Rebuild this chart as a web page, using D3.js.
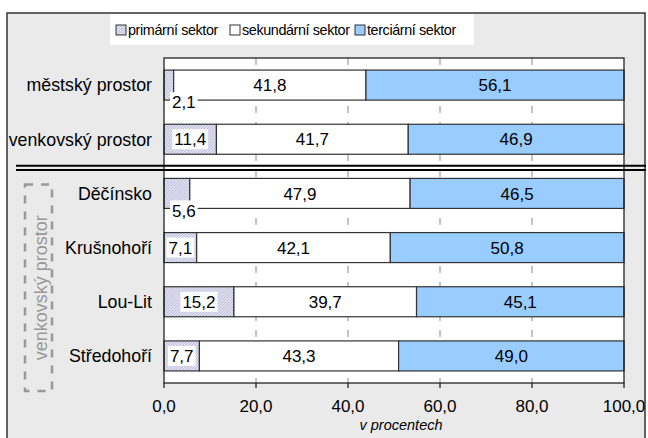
<!DOCTYPE html>
<html>
<head>
<meta charset="utf-8">
<script src="https://cdn.jsdelivr.net/npm/d3@7"></script>
<style>
html,body{margin:0;padding:0;background:#fff;}
svg{display:block;font-family:"Liberation Sans",Arial,sans-serif;}
</style>
</head>
<body>
<svg id="chart" width="648" height="438"></svg>
<script>
const categories = ["městský prostor","venkovský prostor","Děčínsko","Krušnohoří","Lou-Lit","Středohoří"];
const primary = [2.1, 11.4, 5.6, 7.1, 15.2, 7.7];
const secondary = [41.8, 41.7, 47.9, 42.1, 39.7, 43.3];
const tertiary = [56.1, 46.9, 46.5, 50.8, 45.1, 49.0];
const seriesNames = ["primární sektor","sekundární sektor","terciární sektor"];
const xTicks = [0, 20, 40, 60, 80, 100];
const groupLabel = "venkovský prostor";
const axisTitle = "v procentech";

const svg = d3.select("#chart");
const plot = {left:164, right:624, top:58, bottom:383};

const defs = svg.append("defs");
const pat = defs.append("pattern").attr("id","hatch").attr("patternUnits","userSpaceOnUse")
  .attr("width",3).attr("height",3);
pat.append("rect").attr("width",3).attr("height",3).attr("fill","#dedef0");
pat.append("path").attr("d","M-1,1 l2,-2 M0,3 l3,-3 M2,4 l2,-2").attr("stroke","#bcbcd8").attr("stroke-width",0.9);

const fills = ["url(#hatch)","#ffffff","#99ccff"];

svg.append("rect").attr("x",7).attr("y",13).attr("width",638).attr("height",440)
  .attr("fill","#eaeaea").attr("stroke","#333").attr("stroke-width",1.5);

svg.append("rect").attr("x",110).attr("y",14).attr("width",364).attr("height",31).attr("fill","#fff");

const x = d3.scaleLinear().domain([0,100]).range([plot.left, plot.right]);
const y = d3.scaleBand().domain(categories).range([plot.top, plot.bottom]).paddingInner(0.446).paddingOuter(0.223);

const locale = d3.formatLocale({decimal:",", thousands:" ", grouping:[3], currency:["",""]});
const fmt = locale.format(".1f");

svg.append("rect").attr("x",plot.left).attr("y",plot.top).attr("width",plot.right-plot.left)
  .attr("height",plot.bottom-plot.top).attr("fill","#fff");

svg.append("g").selectAll("line").data(xTicks.slice(1,-1)).join("line")
  .attr("x1",d=>x(d)).attr("x2",d=>x(d)).attr("y1",plot.top).attr("y2",plot.bottom)
  .attr("stroke","#888").attr("stroke-width",1).attr("stroke-dasharray","7,9");

const rows = categories.map((c,i)=>({cat:c, vals:[primary[i],secondary[i],tertiary[i]]}));
const segs = [];
rows.forEach(r=>{
  let acc=0;
  r.vals.forEach((v,k)=>{ segs.push({cat:r.cat, k, v, x0:acc, x1:acc+v}); acc+=v; });
});

svg.append("g").selectAll("rect").data(segs).join("rect")
  .attr("x",d=>x(d.x0)).attr("y",d=>y(d.cat))
  .attr("width",d=>x(d.x1)-x(d.x0)).attr("height",y.bandwidth())
  .attr("fill",d=>fills[d.k]).attr("stroke","#333").attr("stroke-width",1.2);

svg.append("rect").attr("x",plot.left).attr("y",plot.top).attr("width",plot.right-plot.left)
  .attr("height",plot.bottom-plot.top).attr("fill","none").attr("stroke","#222").attr("stroke-width",1.3);

const FS = 17;
const lab = svg.append("g").attr("font-size",FS).attr("fill","#000");
segs.forEach(d=>{
  let cx, cy, anchor="middle";
  if(d.k===0 && d.v<6){
    cx = x(0)+8; cy = y(d.cat)+y.bandwidth()+2; anchor="start";
  } else {
    cx = (x(d.x0)+x(d.x1))/2; cy = y(d.cat)+y.bandwidth()/2;
  }
  const t = lab.append("text").attr("x",cx).attr("y",cy).attr("dy","0.36em")
    .attr("text-anchor",anchor).text(fmt(d.v));
  if(d.k===0){
    const bb = t.node().getBBox();
    lab.insert("rect","text:last-child").attr("x",bb.x-2).attr("y",cy-10)
      .attr("width",bb.width+4).attr("height",20).attr("fill","#fff");
  }
});

const ax = svg.append("g");
ax.selectAll("line").data(xTicks).join("line")
  .attr("x1",d=>x(d)).attr("x2",d=>x(d)).attr("y1",plot.bottom).attr("y2",plot.bottom+5)
  .attr("stroke","#222").attr("stroke-width",1.3);
ax.selectAll("text").data(xTicks).join("text")
  .attr("x",d=>x(d)).attr("y",plot.bottom+23).attr("dy","0.36em").attr("text-anchor","middle")
  .attr("font-size",FS).text(d=>fmt(d));
svg.append("text").attr("x",(plot.left+plot.right)/2+7).attr("y",plot.bottom+42).attr("dy","0.36em")
  .attr("text-anchor","middle").attr("font-size",14.5).attr("font-style","italic").text(axisTitle);

svg.append("g").selectAll("text").data(categories).join("text")
  .attr("x",plot.left-12).attr("y",d=>y(d)+y.bandwidth()/2).attr("dy","0.36em")
  .attr("text-anchor","end").attr("font-size",17.8).text(d=>d);

const b = (y(categories[1])+y.bandwidth()+y(categories[2]))/2;
[b-0.5, b+3.7].forEach(yy=>{
  svg.append("line").attr("x1",16).attr("x2",646).attr("y1",yy).attr("y2",yy)
    .attr("stroke","#000").attr("stroke-width",2);
});

const gTop = y(categories[2]) + 6, gBot = y(categories[5]) + y.bandwidth() + 20;
svg.append("rect").attr("x",25).attr("y",gTop).attr("width",27).attr("height",gBot-gTop)
  .attr("fill","none").attr("stroke","#999").attr("stroke-width",2.5).attr("stroke-dasharray","8,8");
svg.append("text").attr("transform",`translate(41,${(gTop+gBot)/2}) rotate(-90)`)
  .attr("text-anchor","middle").attr("dy","0.36em").attr("font-size",18).attr("fill","#999").text(groupLabel);

const lg = svg.append("g").attr("font-size",14.4).attr("letter-spacing","-0.4px");
const legX = [116, 230, 355];
seriesNames.forEach((n,i)=>{
  lg.append("rect").attr("x",legX[i]).attr("y",25).attr("width",10).attr("height",10)
    .attr("fill",fills[i]).attr("stroke","#333").attr("stroke-width",1);
  lg.append("text").attr("x",legX[i]+12).attr("y",30).attr("dy","0.36em").text(n);
});
</script>
</body>
</html>
